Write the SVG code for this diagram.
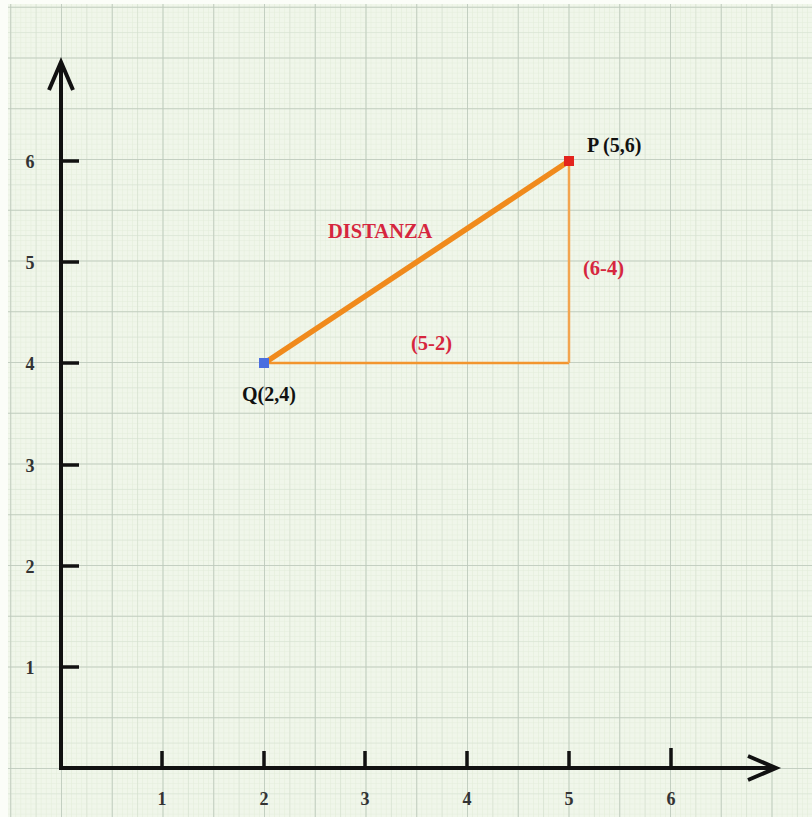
<svg xmlns="http://www.w3.org/2000/svg" width="812" height="817" viewBox="0 0 812 817">
<defs>
<pattern id="minor" x="61" y="768" width="5.075" height="5.075" patternUnits="userSpaceOnUse">
<path d="M0 0V5.075M0 0H5.075" stroke="#e2ecd9" stroke-width="1" fill="none"/>
</pattern>
<pattern id="mid" x="61" y="768" width="25.375" height="25.375" patternUnits="userSpaceOnUse">
<path d="M0 0V25.375M0 0H25.375" stroke="#d3dfcf" stroke-width="1.2" fill="none"/>
</pattern>
<pattern id="major" x="61" y="768" width="50.75" height="50.75" patternUnits="userSpaceOnUse">
<path d="M0 0V50.75M0 0H50.75" stroke="#bcc7ba" stroke-width="1.5" fill="none"/>
</pattern>
</defs>
<style>
.ax{stroke:#111;stroke-width:4;fill:none;stroke-linecap:butt}
.tick{stroke:#111;stroke-width:3.5}
.num{font-family:"Liberation Serif",serif;font-weight:bold;font-size:18px;fill:#333;text-anchor:middle}
.lab{font-family:"Liberation Serif",serif;font-weight:bold;font-size:20px;fill:#111}
.red{font-family:"Liberation Serif",serif;font-weight:bold;font-size:20.5px;fill:#d6263e}
</style>
<rect width="812" height="817" fill="#fbfdf8"/>
<g id="grid">
<rect x="8" y="4" width="804" height="813" fill="#f0f6ea"/>
<rect x="8" y="4" width="804" height="813" fill="url(#minor)"/>
<rect x="8" y="4" width="804" height="813" fill="url(#mid)"/>
<rect x="8" y="4" width="804" height="813" fill="url(#major)"/>
</g>
<g id="axes">
<path class="ax" d="M61 770V62"/>
<path class="ax" d="M49 90L61 62L73 90"/>
<path class="ax" d="M59 768H776"/>
<path class="ax" d="M748 756L776 768L748 780"/>
<g id="yticks">
<line class="tick" x1="61" y1="667" x2="79" y2="667"/>
<line class="tick" x1="61" y1="566" x2="79" y2="566"/>
<line class="tick" x1="61" y1="465" x2="79" y2="465"/>
<line class="tick" x1="61" y1="363" x2="79" y2="363"/>
<line class="tick" x1="61" y1="262" x2="79" y2="262"/>
<line class="tick" x1="61" y1="161" x2="79" y2="161"/>
</g>
<g id="xticks">
<line class="tick" x1="162" y1="768" x2="162" y2="751"/>
<line class="tick" x1="264" y1="768" x2="264" y2="751"/>
<line class="tick" x1="365" y1="768" x2="365" y2="751"/>
<line class="tick" x1="467" y1="768" x2="467" y2="751"/>
<line class="tick" x1="569" y1="768" x2="569" y2="751"/>
<line class="tick" x1="671" y1="768" x2="671" y2="748"/>
</g>
<g id="ylabels">
<text class="num" x="30" y="674">1</text>
<text class="num" x="30" y="573">2</text>
<text class="num" x="30" y="472">3</text>
<text class="num" x="30" y="370">4</text>
<text class="num" x="30" y="269">5</text>
<text class="num" x="30" y="168">6</text>
</g>
<g id="xlabels">
<text class="num" x="162" y="805">1</text>
<text class="num" x="264" y="805">2</text>
<text class="num" x="365" y="805">3</text>
<text class="num" x="467" y="805">4</text>
<text class="num" x="569" y="805">5</text>
<text class="num" x="671" y="805">6</text>
</g>
</g>
<g id="connectors">
<line x1="264" y1="363" x2="569" y2="363" stroke="#f2952e" stroke-width="2.5"/>
<line x1="569" y1="161" x2="569" y2="363" stroke="#f2a550" stroke-width="2.5"/>
<line x1="266" y1="362" x2="569" y2="161" stroke="#f08a1c" stroke-width="5.5" stroke-linecap="round"/>
</g>
<g id="Q">
<rect x="259" y="358" width="10" height="10" fill="#4a6ee0"/>
<text class="lab" x="242" y="401">Q(2,4)</text>
</g>
<g id="P">
<rect x="564" y="156" width="10" height="10" fill="#e3241e"/>
<text class="lab" x="587" y="152">P (5,6)</text>
</g>
<g id="labels">
<text class="red" x="328" y="238">DISTANZA</text>
<text class="red" x="411" y="350" font-size="21px">(5-2)</text>
<text class="red" x="583" y="275" font-size="21px">(6-4)</text>
</g>
</svg>
